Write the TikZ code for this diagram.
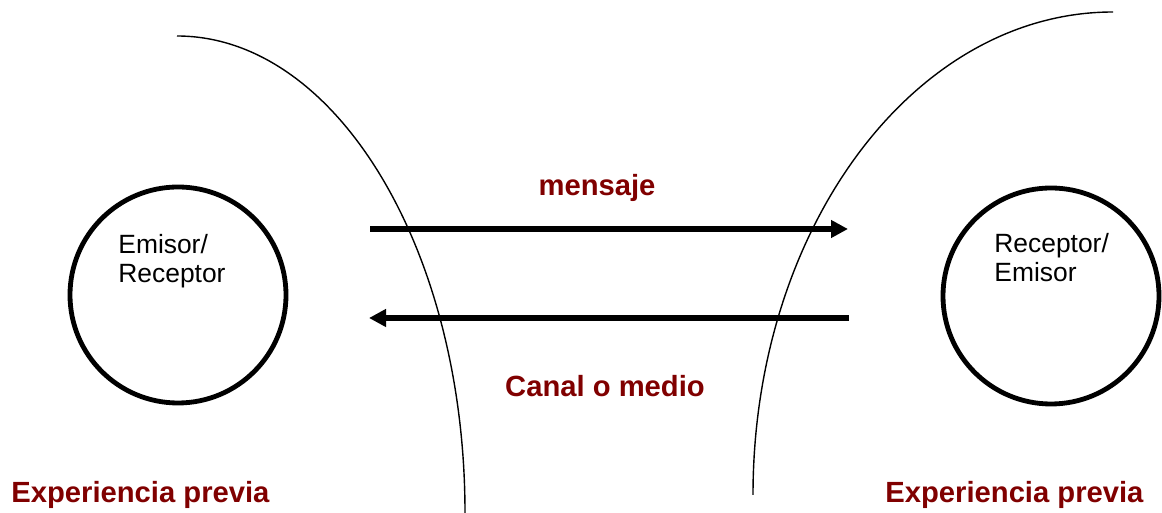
\documentclass[tikz,border=0pt]{standalone}
\usepackage{fontspec}
\setmainfont{Liberation Sans}
\usetikzlibrary{arrows.meta}
\definecolor{darkred}{RGB}{128,0,0}

\tikzstyle{party vertex}=[circle,draw,line width=2.4pt,minimum size=108pt,inner sep=0pt]
\tikzstyle{party text}=[anchor=base west,align=left,inner sep=0pt,font=\fontsize{13.2}{14.5}\selectfont]
\tikzstyle{red label}=[inner sep=0pt,text=darkred,font=\fontsize{14.6}{17}\selectfont\bfseries]
\tikzstyle{flow edge}=[draw,line width=2.6pt,-{Triangle[length=8.5pt,width=8.5pt]}]
\tikzstyle{field line}=[draw,line width=0.7pt]

\begin{document}
\begin{tikzpicture}[x=0.5pt,y=0.5pt]
    \useasboundingbox (0,0) rectangle (1162,513);
    % Draw the fields of experience
    \path[field line] (177,477) arc[start angle=90,end angle=0,x radius=288,y radius=477];
    \path[field line] (1113,501) arc[start angle=90,end angle=180,x radius=360,y radius=483];
    % The two parties
    \node[party vertex] (Emisor) at (178,218) {};
    \node[party vertex] (Receptor) at (1051,217) {};
    \node[party text] (EmisorText) at (118,230) {Emisor/\\Receptor};
    \node[party text] (ReceptorText) at (994,231) {Receptor/\\Emisor};
    % Message goes right, channel comes back
    \coordinate (MsgStart) at (370,284);
    \coordinate (MsgEnd) at (848,284);
    \coordinate (ChanStart) at (849,195);
    \coordinate (ChanEnd) at (369,195);
    \path[flow edge] (MsgStart) -- (MsgEnd);
    \path[flow edge] (ChanStart) -- (ChanEnd);
    % Labels
    \node[red label, anchor=base] (Mensaje) at (597,317) {mensaje};
    \node[red label, anchor=base] (Canal) at (605,116) {Canal o medio};
    \node[red label, anchor=base west] (ExpLeft) at (11,10) {Experiencia previa};
    \node[red label, anchor=base west] (ExpRight) at (885,10) {Experiencia previa};
\end{tikzpicture}
\end{document}
